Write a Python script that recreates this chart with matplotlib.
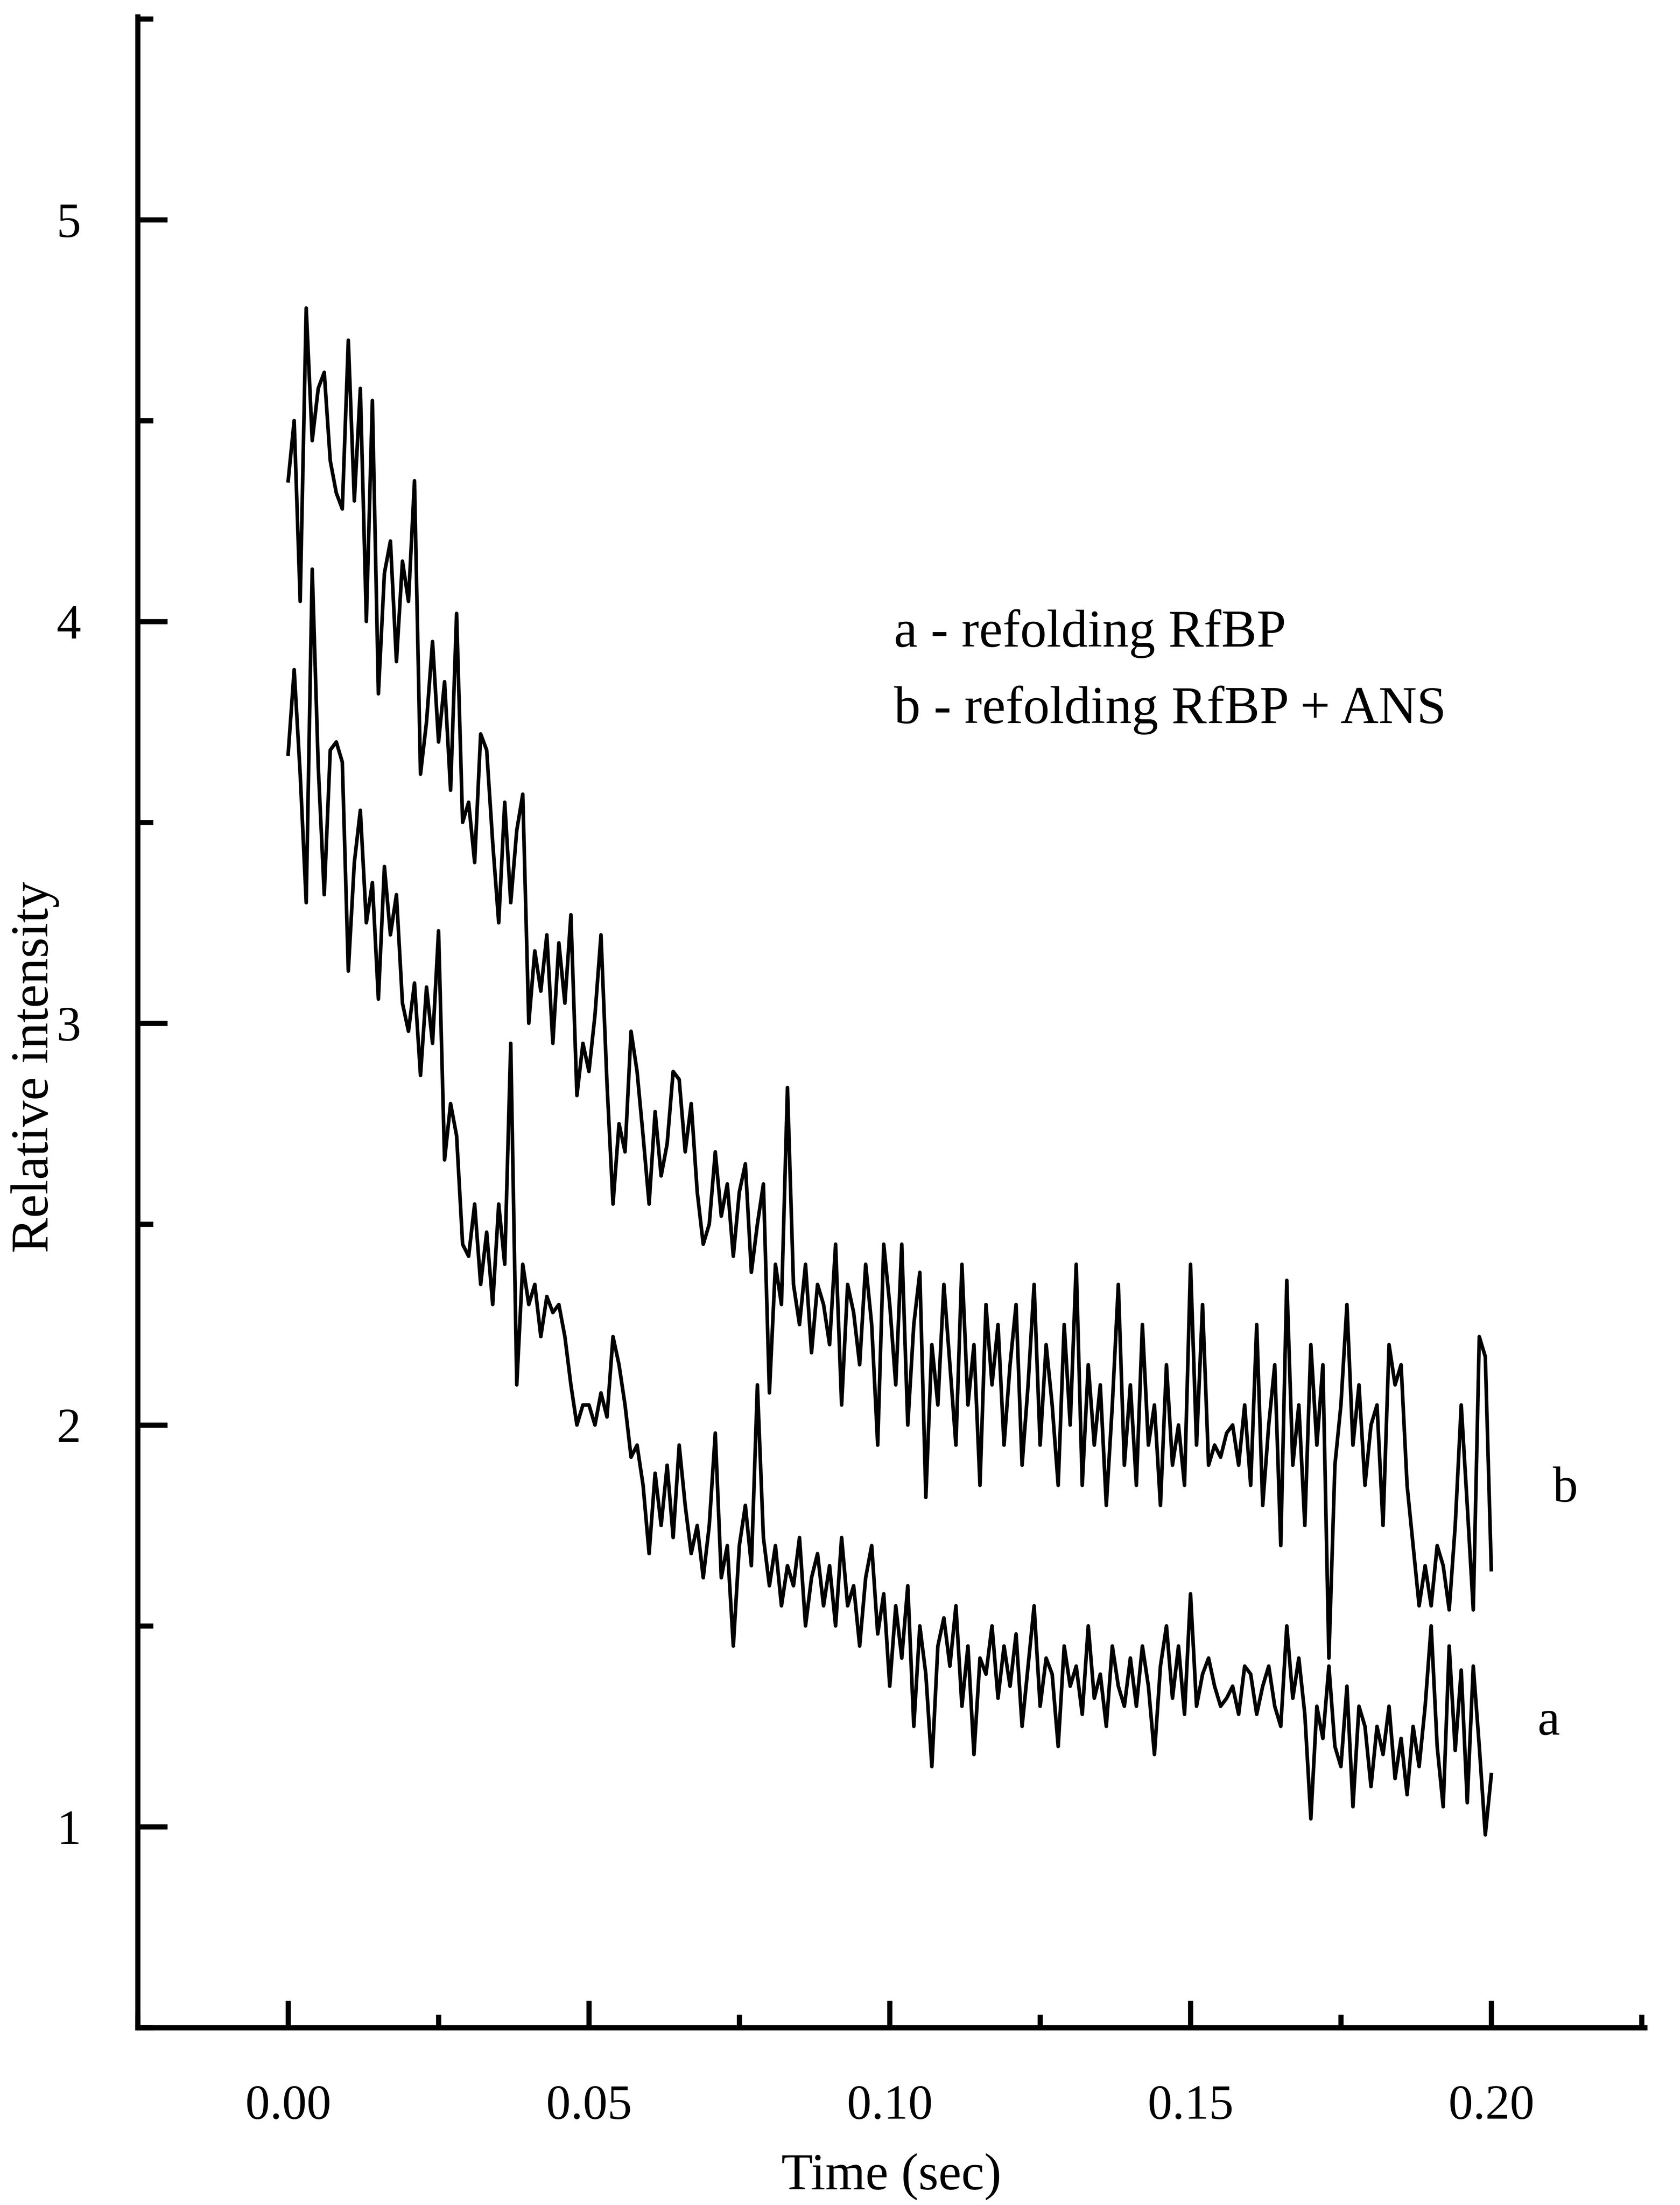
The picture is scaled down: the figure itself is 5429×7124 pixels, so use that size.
import numpy as np
import matplotlib
matplotlib.use("Agg")
import matplotlib.pyplot as plt
from matplotlib.ticker import MultipleLocator

# Time axis (sec), one reading per ms
time = np.round(np.arange(0, 0.2001, 0.001), 3)

# Trace b - refolding RfBP + ANS (upper curve)
trace_b = [
    4.35, 4.50, 4.05, 4.78, 4.45, 4.58, 4.62, 4.40, 4.32, 4.28,
    4.70, 4.30, 4.58, 4.00, 4.55, 3.82, 4.12, 4.20, 3.90, 4.15,
    4.05, 4.35, 3.62, 3.75, 3.95, 3.70, 3.85, 3.58, 4.02, 3.50,
    3.55, 3.40, 3.72, 3.68, 3.45, 3.25, 3.55, 3.30, 3.48, 3.57,
    3.00, 3.18, 3.08, 3.22, 2.95, 3.20, 3.05, 3.27, 2.82, 2.95,
    2.88, 3.02, 3.22, 2.85, 2.55, 2.75, 2.68, 2.98, 2.88, 2.72,
    2.55, 2.78, 2.62, 2.70, 2.88, 2.86, 2.68, 2.80, 2.58, 2.45,
    2.50, 2.68, 2.52, 2.60, 2.42, 2.58, 2.65, 2.38, 2.50, 2.60,
    2.08, 2.40, 2.30, 2.84, 2.35, 2.25, 2.40, 2.18, 2.35, 2.30,
    2.20, 2.45, 2.05, 2.35, 2.28, 2.15, 2.40, 2.25, 1.95, 2.45,
    2.30, 2.10, 2.45, 2.00, 2.25, 2.38, 1.82, 2.20, 2.05, 2.35,
    2.15, 1.95, 2.40, 2.05, 2.20, 1.85, 2.30, 2.10, 2.25, 1.95,
    2.15, 2.30, 1.90, 2.10, 2.35, 1.95, 2.20, 2.05, 1.85, 2.25,
    2.00, 2.40, 1.85, 2.15, 1.95, 2.10, 1.80, 2.05, 2.35, 1.90,
    2.10, 1.85, 2.25, 1.95, 2.05, 1.80, 2.15, 1.90, 2.00, 1.85,
    2.40, 1.95, 2.30, 1.90, 1.95, 1.92, 1.98, 2.00, 1.90, 2.05,
    1.85, 2.25, 1.80, 2.00, 2.15, 1.70, 2.36, 1.90, 2.05, 1.75,
    2.20, 1.95, 2.15, 1.42, 1.90, 2.05, 2.30, 1.95, 2.10, 1.85,
    2.00, 2.05, 1.75, 2.20, 2.10, 2.15, 1.85, 1.70, 1.55, 1.65,
    1.55, 1.70, 1.65, 1.54, 1.75, 2.05, 1.80, 1.54, 2.22, 2.17,
    1.64,
]

# Trace a - refolding RfBP (lower curve)
trace_a = [
    3.67, 3.88, 3.62, 3.30, 4.13, 3.64, 3.32, 3.68, 3.70, 3.65,
    3.13, 3.40, 3.53, 3.25, 3.35, 3.06, 3.39, 3.22, 3.32, 3.05,
    2.98, 3.10, 2.87, 3.09, 2.95, 3.23, 2.66, 2.80, 2.72, 2.45,
    2.42, 2.55, 2.35, 2.48, 2.30, 2.55, 2.40, 2.95, 2.10, 2.40,
    2.30, 2.35, 2.22, 2.32, 2.28, 2.30, 2.22, 2.10, 2.00, 2.05,
    2.05, 2.00, 2.08, 2.02, 2.22, 2.15, 2.05, 1.92, 1.95, 1.85,
    1.68, 1.88, 1.75, 1.90, 1.72, 1.95, 1.80, 1.68, 1.75, 1.62,
    1.75, 1.98, 1.62, 1.70, 1.45, 1.70, 1.80, 1.65, 2.10, 1.72,
    1.60, 1.70, 1.55, 1.65, 1.60, 1.72, 1.50, 1.62, 1.68, 1.55,
    1.65, 1.50, 1.72, 1.55, 1.60, 1.45, 1.62, 1.70, 1.48, 1.58,
    1.35, 1.55, 1.42, 1.60, 1.25, 1.50, 1.38, 1.15, 1.45, 1.52,
    1.40, 1.55, 1.30, 1.45, 1.18, 1.42, 1.38, 1.50, 1.32, 1.45,
    1.35, 1.48, 1.25, 1.40, 1.55, 1.30, 1.42, 1.38, 1.20, 1.45,
    1.35, 1.40, 1.28, 1.50, 1.32, 1.38, 1.25, 1.45, 1.35, 1.30,
    1.42, 1.30, 1.45, 1.35, 1.18, 1.40, 1.50, 1.32, 1.45, 1.28,
    1.58, 1.30, 1.38, 1.42, 1.35, 1.30, 1.32, 1.35, 1.28, 1.40,
    1.38, 1.28, 1.35, 1.40, 1.30, 1.25, 1.50, 1.32, 1.42, 1.28,
    1.02, 1.30, 1.22, 1.40, 1.20, 1.15, 1.35, 1.05, 1.30, 1.25,
    1.10, 1.25, 1.18, 1.30, 1.12, 1.22, 1.08, 1.25, 1.15, 1.30,
    1.50, 1.20, 1.05, 1.45, 1.19, 1.39, 1.06, 1.40, 1.20, 0.98,
    1.13,
]

legend_lines = ["a - refolding RfBP", "b - refolding RfBP + ANS"]
curve_labels = ["a", "b"]

plt.rcParams["font.family"] = ["Liberation Serif", "DejaVu Serif"]

fig = plt.figure(figsize=(5429 / 300, 7124 / 300), dpi=300)
ax = fig.add_axes([0.082, 0.0804, 0.897, 0.912])

ax.plot(time, trace_b, color="black", lw=2.8)
ax.plot(time, trace_a, color="black", lw=2.8)

ax.set_xlim(-0.025, 0.2255)
ax.set_ylim(0.5, 5.505)

ax.spines["top"].set_visible(False)
ax.spines["right"].set_visible(False)
for s in ["left", "bottom"]:
    ax.spines[s].set_linewidth(4.0)

ax.xaxis.set_major_locator(MultipleLocator(0.05))
ax.xaxis.set_minor_locator(MultipleLocator(0.025))
ax.yaxis.set_major_locator(MultipleLocator(1))
ax.yaxis.set_minor_locator(MultipleLocator(0.5))
ax.set_xticks([0.0, 0.05, 0.10, 0.15, 0.20])
ax.set_xticklabels(["0.00", "0.05", "0.10", "0.15", "0.20"])
ax.set_yticks([1, 2, 3, 4, 5])
ax.set_yticklabels(["1", "2", "3", "4", "5"])

ax.tick_params(axis="y", which="major", direction="in", length=23, width=4,
               labelsize=38, pad=44)
ax.tick_params(axis="x", which="major", direction="in", length=21, width=4,
               labelsize=38, pad=44)
ax.tick_params(axis="y", which="minor", direction="in", length=12, width=4)
ax.tick_params(axis="x", which="minor", direction="in", length=10, width=4)

ax.set_xlabel("Time (sec)", fontsize=40)
ax.xaxis.set_label_coords(0.5, -0.0741)
ax.xaxis.label.set_verticalalignment("center")
ax.set_ylabel("Relative intensity", fontsize=41)
ax.yaxis.set_label_coords(-0.0681, 0.4776)
ax.yaxis.label.set_verticalalignment("center")

ax.text(0.1007, 3.97, legend_lines[0], fontsize=41, va="center", ha="left")
ax.text(0.1007, 3.78, legend_lines[1], fontsize=41, va="center", ha="left")

ax.text(0.2095, 1.26, curve_labels[0], fontsize=39, va="center", ha="center")
ax.text(0.2123, 1.84, curve_labels[1], fontsize=39, va="center", ha="center")

fig.savefig("out.png", dpi=300)
